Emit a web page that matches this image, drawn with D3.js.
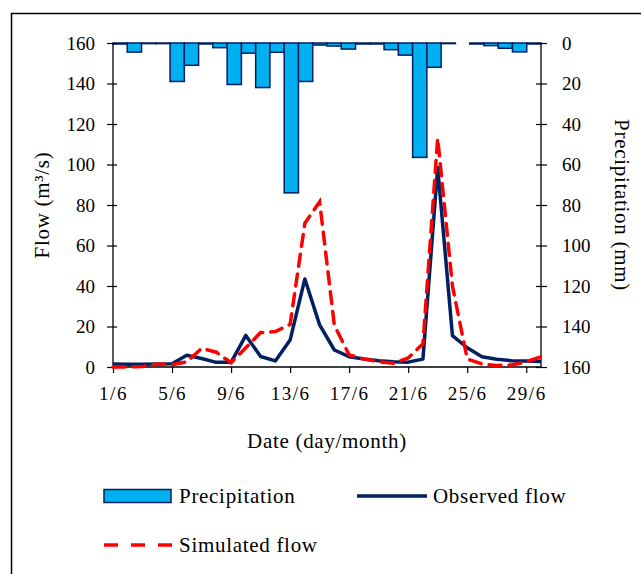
<!DOCTYPE html>
<html>
<head>
<meta charset="utf-8">
<script src="https://cdn.jsdelivr.net/npm/d3@7"></script>
<style>
  body { margin: 0; background: #fff; }
  text { font-family: "Liberation Serif", "Times New Roman", serif; fill: #000; }
</style>
</head>
<body>
<div id="chart"></div>
<script>
// day of June
var days = d3.range(1, 31);
var dayTicks = [1, 5, 9, 13, 17, 21, 25, 29];
var flowTicks = [0, 20, 40, 60, 80, 100, 120, 140, 160];
var precTicks = [0, 20, 40, 60, 80, 100, 120, 140, 160];

// precipitation (mm)
var precipitation = [0.5, 4.5, 0.3, 0.3, 19, 11, 0.5, 2.3, 20.5, 5,
                     22, 4.6, 74, 19, 1, 1.5, 3, 0.5, 0.5, 3.3,
                     6, 56.5, 12, 0.3, 0, 0.5, 1.3, 2.6, 4.4, 0.5];
// observed flow (m3/s)
var observed = [1.5, 1.4, 1.3, 1.5, 1.6, 5.8, 4.2, 2.3, 2.3, 15.6,
                5.2, 3, 13.3, 43.5, 20.8, 8.4, 5.1, 4, 3.1, 2.6,
                2.4, 3.9, 98.5, 15.5, 9.5, 5.1, 3.8, 3.1, 3.0, 2.7];
// simulated flow (m3/s)
var simulated = [0, 0, 0.3, 1.5, 1.2, 2.5, 9.2, 7.3, 2.1, 9.5,
                 17, 17.5, 21, 71, 81.6, 20.5, 6, 4, 2.6, 1.8,
                 4.5, 11.5, 113, 40, 4, 1.5, 0.8, 1, 2.6, 5];

var width = 641, height = 574;
var plot = {left: 113, right: 541, top: 43, bottom: 367};
var navy = "#002060", blue = "#00B0F0", red = "#FF0000";

var svg = d3.select("#chart").append("svg")
    .attr("width", width)
    .attr("height", height);

svg.append("rect")
    .attr("width", width).attr("height", height)
    .attr("fill", "#fff");

// outer frame (runs off the right and bottom of the picture)
svg.append("rect")
    .attr("x", 11.5).attr("y", 13.5)
    .attr("width", 660).attr("height", 600)
    .attr("fill", "none")
    .attr("stroke", "#000")
    .attr("stroke-width", 1.5);

var x = d3.scaleLinear().domain([1, 30]).range([plot.left, plot.right]);
var xBand = d3.scaleBand().domain(days).range([plot.left, plot.right]).padding(0);
var yFlow = d3.scaleLinear().domain([0, 160]).range([plot.bottom, plot.top]);
var yPrec = d3.scaleLinear().domain([0, 160]).range([plot.top, plot.bottom]);

// precipitation bars hanging from the top
svg.append("g").selectAll("rect")
    .data(days.filter(function(d, i){ return precipitation[i] > 0; }))
    .enter()
    .append("rect")
    .attr("x", function(d){ return xBand(d); })
    .attr("y", yPrec(0))
    .attr("width", xBand.bandwidth())
    .attr("height", function(d){ return yPrec(precipitation[d - 1]) - yPrec(0); })
    .attr("fill", blue)
    .attr("stroke", navy)
    .attr("stroke-width", 1.5);

// axes
var leftAxis = svg.append("g")
    .attr("transform", "translate(" + plot.left + ",0)")
    .call(d3.axisLeft(yFlow).tickValues(flowTicks).tickSize(6).tickPadding(12));
var rightAxis = svg.append("g")
    .attr("transform", "translate(" + plot.right + ",0)")
    .call(d3.axisRight(yPrec).tickValues(precTicks).tickSize(6).tickPadding(15));
var bottomAxis = svg.append("g")
    .attr("transform", "translate(0," + plot.bottom + ")")
    .call(d3.axisBottom(x).tickValues(dayTicks).tickSize(6).tickPadding(14)
        .tickFormat(function(d){ return d + "/6"; }));

[leftAxis, rightAxis, bottomAxis].forEach(function(g){
    g.select(".domain").attr("stroke", "#000").attr("stroke-width", 1.3);
    g.selectAll(".tick line").attr("stroke", "#000").attr("stroke-width", 1.2);
    g.selectAll("text")
        .style("font-family", "'Liberation Serif', serif")
        .style("font-size", "19px")
        .attr("fill", "#000");
});
bottomAxis.selectAll("text").style("letter-spacing", "1.5px");
// cross ticks on the y axes
leftAxis.selectAll(".tick line").attr("x1", 4);
rightAxis.selectAll(".tick line").attr("x1", -5);
leftAxis.select(".domain").attr("d", "M0," + plot.top + "V" + plot.bottom);
rightAxis.select(".domain").attr("d", "M0," + plot.top + "V" + plot.bottom);
bottomAxis.select(".domain").attr("d", "M" + plot.left + ",0H" + plot.right);

// flow lines
var flowLine = d3.line()
    .x(function(d, i){ return x(days[i]); })
    .y(function(d){ return yFlow(d); });

svg.append("path")
    .attr("d", flowLine(observed))
    .attr("fill", "none")
    .attr("stroke", navy)
    .attr("stroke-width", 3.5)
    .attr("stroke-linejoin", "round");

svg.append("path")
    .attr("d", flowLine(simulated))
    .attr("fill", "none")
    .attr("stroke", red)
    .attr("stroke-width", 3.5)
    .attr("stroke-dasharray", "12,8")
    .attr("stroke-linecap", "round");

// axis titles
var titleSize = "21px", titleSpacing = "0.7px";
svg.append("text")
    .attr("transform", "translate(49,205) rotate(-90)")
    .attr("text-anchor", "middle")
    .style("font-size", titleSize).style("letter-spacing", titleSpacing)
    .text("Flow (m\u00B3/s)");

svg.append("text")
    .attr("transform", "translate(615,205) rotate(90)")
    .attr("text-anchor", "middle")
    .style("font-size", titleSize).style("letter-spacing", titleSpacing)
    .text("Precipitation (mm)");

svg.append("text")
    .attr("x", 327).attr("y", 448)
    .attr("text-anchor", "middle")
    .style("font-size", titleSize).style("letter-spacing", titleSpacing)
    .text("Date (day/month)");

// legend
var legend = svg.append("g");
legend.append("rect")
    .attr("x", 104).attr("y", 489.5)
    .attr("width", 67).attr("height", 13)
    .attr("fill", blue).attr("stroke", navy).attr("stroke-width", 1.5);
legend.append("text").attr("x", 179).attr("y", 503)
    .style("font-size", titleSize).style("letter-spacing", titleSpacing).text("Precipitation");

legend.append("line")
    .attr("x1", 357).attr("x2", 427).attr("y1", 496).attr("y2", 496)
    .attr("stroke", navy).attr("stroke-width", 3.5);
legend.append("text").attr("x", 433).attr("y", 503)
    .style("font-size", titleSize).style("letter-spacing", titleSpacing).text("Observed flow");

legend.append("line")
    .attr("x1", 104).attr("x2", 173).attr("y1", 545).attr("y2", 545)
    .attr("stroke", red).attr("stroke-width", 3.5)
    .attr("stroke-dasharray", "14,13");
legend.append("text").attr("x", 179).attr("y", 552)
    .style("font-size", titleSize).style("letter-spacing", titleSpacing).text("Simulated flow");
</script>
</body>
</html>
